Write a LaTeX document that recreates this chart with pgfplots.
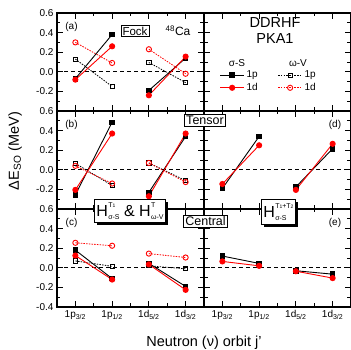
\documentclass[border=0pt]{standalone}
\usepackage{fontspec}
\setmainfont{Liberation Sans}
\usepackage{pgfplots}
\pgfplotsset{compat=1.18}
\usepackage{pgfplotstable}
\usetikzlibrary{shadows}

\pgfplotstableread{
x s1p s1d w1p w1d
0 -0.07 -0.08 0.13 0.30
1 0.38 0.26 -0.15 0.09
1.5 nan nan nan nan
2 -0.19 -0.24 0.095 0.23
3 0.14 0.155 -0.11 -0.02
}\tabA
\pgfplotstableread{
x s1p s1d w1p w1d
0 -0.255 -0.205 0.065 0.04
1 0.485 0.37 -0.16 -0.14
1.5 nan nan nan nan
2 -0.23 -0.27 0.07 0.07
3 0.34 0.37 -0.11 -0.125
}\tabB
\pgfplotstableread{
x s1p s1d w1p w1d
0 0.18 0.125 0.07 0.255
1 -0.11 -0.12 0.015 0.225
1.5 nan nan nan nan
2 0.045 0.035 0.02 0.145
3 -0.19 -0.225 -0.01 0.105
}\tabC
\pgfplotstableread{
x s1p s1d
0 -0.19 -0.145
1 0.34 0.25
1.5 nan nan
2 -0.175 -0.205
3 0.215 0.265
}\tabD
\pgfplotstableread{
x s1p s1d
0 0.12 0.065
1 0.045 0.02
1.5 nan nan
2 -0.03 -0.035
3 -0.065 -0.105
}\tabE

\newcommand{\HH}[2]{H\kern0.3pt\begingroup\fontsize{7}{7}\selectfont
 \setbox0\hbox{#1}\setbox2\hbox{#2}%
 \dimen0=\ifdim\wd0>\wd2 \wd0\else\wd2\fi
 \rlap{\raisebox{8.5pt}{\box0}}\rlap{\raisebox{-3pt}{\box2}}\kern\dimen0\endgroup}
\newcommand{\sm}[1]{{\fontsize{5}{5}\selectfont #1}}

\pgfplotsset{
  panel/.style={scale only axis, width=147pt, height=98pt,
    xmin=-0.5, xmax=3.5, ymin=-0.4, ymax=0.6,
    xtick={0,1,2,3}, minor x tick num=1,
    ytick={-0.4,-0.2,0,0.2,0.4,0.6}, minor y tick num=1,
    tick align=inside, major tick length=6pt, minor tick length=3.5pt,
    axis line style={line width=1.1pt},
    every tick/.style={black, line width=0.9pt},
    xticklabels={}, yticklabels={},
    unbounded coords=jump,
    tick label style={font=\fontsize{10}{12}\selectfont},
    anchor=south west},
  zero/.style={black, line width=0.8pt, dash pattern=on 4pt off 3pt, forget plot},
  s1p/.style={black, line width=0.9pt, mark=square*, mark size=2.3pt, mark options={solid}},
  s1d/.style={red, line width=0.9pt, mark=*, mark size=2.6pt, mark options={solid}},
  w1p/.style={black, line width=0.8pt, dash pattern=on 1.5pt off 1.2pt, mark=square, mark size=2.1pt, mark options={solid, fill=white, line width=0.9pt}},
  w1d/.style={red, line width=0.8pt, dash pattern=on 1.5pt off 1.2pt, mark=o, mark size=2.6pt, mark options={solid, fill=white, line width=0.9pt}},
}

\begin{document}
\begin{tikzpicture}
\path[use as bounding box] (0pt,0pt) rectangle (351pt,350pt);

% (a)
\begin{axis}[panel, at={(57pt,239pt)}, yticklabels={,-0.2,0.0,0.2,0.4,0.6}]
\addplot[zero] coordinates {(-0.5,0) (3.5,0)};
\addplot[w1p] table[x=x,y=w1p]{\tabA};
\addplot[w1d] table[x=x,y=w1d]{\tabA};
\addplot[s1p] table[x=x,y=s1p]{\tabA};
\addplot[s1d] table[x=x,y=s1d]{\tabA};
\end{axis}

% top right (legend)
\begin{axis}[panel, at={(204pt,239pt)},
  legend columns=2,
  legend style={draw=none, fill=none, at={(0.44,0.30)}, anchor=center,
    font=\fontsize{10}{12}\selectfont, row sep=0pt,
    /tikz/every even column/.append style={column sep=18pt}},
  legend cell align=left,
  legend image code/.code={\draw[mark repeat=2,mark phase=2,#1] plot coordinates {(0pt,0pt) (12pt,0pt) (24pt,0pt)};}]
\addlegendimage{s1p}
\addlegendimage{w1p}
\addlegendimage{s1d}
\addlegendimage{w1d}
\legend{1p,1p,1d,1d}
\end{axis}

% (b)
\begin{axis}[panel, at={(57pt,141pt)}, yticklabels={,-0.2,0.0,0.2,0.4,0.6}]
\addplot[zero] coordinates {(-0.5,0) (3.5,0)};
\addplot[w1p] table[x=x,y=w1p]{\tabB};
\addplot[w1d] table[x=x,y=w1d]{\tabB};
\addplot[s1p] table[x=x,y=s1p]{\tabB};
\addplot[s1d] table[x=x,y=s1d]{\tabB};
\end{axis}

% (d)
\begin{axis}[panel, at={(204pt,141pt)}]
\addplot[zero] coordinates {(-0.5,0) (3.5,0)};
\addplot[s1p] table[x=x,y=s1p]{\tabD};
\addplot[s1d] table[x=x,y=s1d]{\tabD};
\end{axis}

% (c)
\begin{axis}[panel, at={(57pt,43pt)}, yticklabels={-0.4,-0.2,0.0,0.2,0.4,0.6},
  xticklabels={1p\textsubscript{3/2},1p\textsubscript{1/2},1d\textsubscript{5/2},1d\textsubscript{3/2}}]
\addplot[zero] coordinates {(-0.5,0) (3.5,0)};
\addplot[w1p] table[x=x,y=w1p]{\tabC};
\addplot[w1d] table[x=x,y=w1d]{\tabC};
\addplot[s1p] table[x=x,y=s1p]{\tabC};
\addplot[s1d] table[x=x,y=s1d]{\tabC};
\end{axis}

% (e)
\begin{axis}[panel, at={(204pt,43pt)},
  xticklabels={1p\textsubscript{3/2},1p\textsubscript{1/2},1d\textsubscript{5/2},1d\textsubscript{3/2}}]
\addplot[zero] coordinates {(-0.5,0) (3.5,0)};
\addplot[s1p] table[x=x,y=s1p]{\tabE};
\addplot[s1d] table[x=x,y=s1d]{\tabE};
\end{axis}

% texts
\node[font=\fontsize{10}{12}\selectfont] at (71.5pt,323pt) {(a)};
\node[font=\fontsize{10}{12}\selectfont] at (71.5pt,225pt) {(b)};
\node[font=\fontsize{10}{12}\selectfont] at (71.5pt,127pt) {(c)};
\node[font=\fontsize{10}{12}\selectfont] at (335pt,225pt) {(d)};
\node[font=\fontsize{10}{12}\selectfont] at (335pt,127pt) {(e)};

\node[draw, line width=0.9pt, fill=white, inner sep=1.5pt, font=\fontsize{11.5}{12}\selectfont] at (135pt,319pt) {Fock};
\node[font=\fontsize{12}{12}\selectfont] at (178pt,319pt) {\textsuperscript{48}Ca};
\node[font=\fontsize{14.5}{16}\selectfont] at (275pt,327.5pt) {DDRHF};
\node[font=\fontsize{14.5}{16}\selectfont] at (275pt,311pt) {PKA1};
\node[font=\fontsize{10}{12}\selectfont] at (237pt,287pt) {σ-S};
\node[font=\fontsize{10}{12}\selectfont] at (298pt,287pt) {ω-V};

\node[draw, line width=0.9pt, fill=white, inner sep=1.5pt, font=\fontsize{12.5}{13}\selectfont] at (205pt,229.5pt) {Tensor};
\node[draw, line width=0.9pt, fill=white, inner sep=1.5pt, font=\fontsize{12.5}{13}\selectfont] at (205.5pt,128.5pt) {Central};

\node[draw, line width=0.9pt, fill=white, inner sep=2pt,
  drop shadow={shadow xshift=2.5pt, shadow yshift=-2.5pt, opacity=1, fill=black},
  font=\fontsize{16}{16}\selectfont, minimum height=23pt] at (130pt,139pt)
  {\HH{T\sm{1}}{σ-S} \& \HH{T}{ω-V}};
\node[draw, line width=0.9pt, fill=white, inner sep=2pt,
  drop shadow={shadow xshift=2.5pt, shadow yshift=-2.5pt, opacity=1, fill=black},
  font=\fontsize{16}{16}\selectfont, minimum height=25pt] at (278.5pt,138pt)
  {\HH{T\sm{1}+T\sm{2}}{σ-S}};

\node[rotate=90, font=\fontsize{14.5}{16}\selectfont] at (15pt,199pt) {ΔE\textsubscript{SO} (MeV)};
\node[anchor=base, font=\fontsize{14.5}{16}\selectfont] at (204pt,3.5pt) {Neutron (ν) orbit j'};
\end{tikzpicture}
\end{document}
